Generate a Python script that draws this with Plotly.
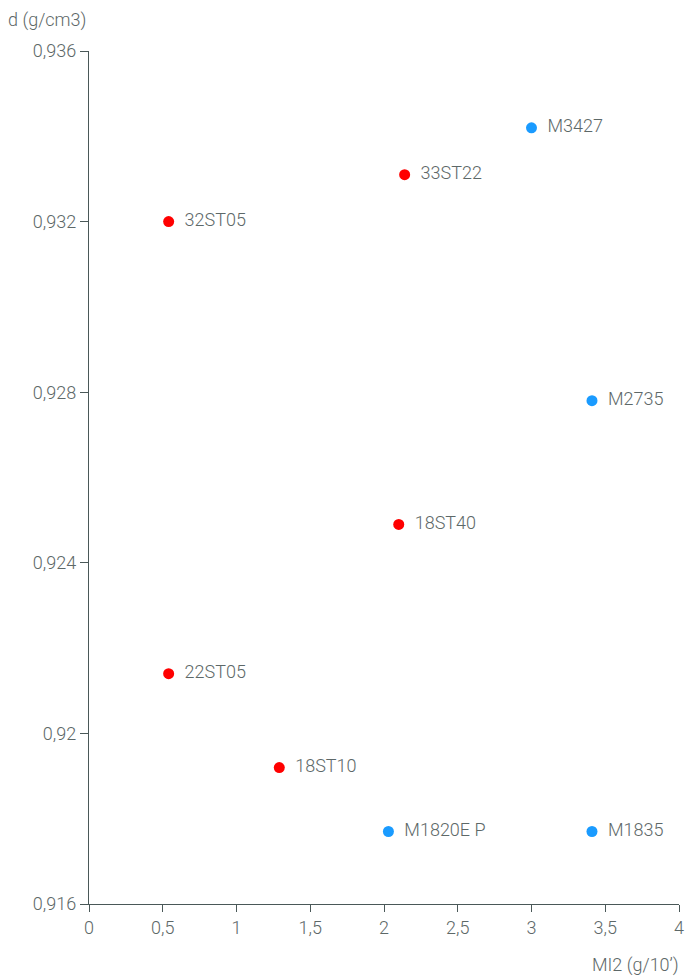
import plotly.graph_objects as go

red_names = ["33ST22", "32ST05", "18ST40", "22ST05", "18ST10"]
red_mi = [2.14, 0.54, 2.10, 0.54, 1.29]
red_d = [0.9331, 0.9320, 0.9249, 0.9214, 0.9192]

blue_names = ["M3427", "M2735", "M1820E P", "M1835"]
blue_mi = [3.00, 3.41, 2.03, 3.41]
blue_d = [0.9342, 0.9278, 0.9177, 0.9177]

x_ticks = [0, 0.5, 1, 1.5, 2, 2.5, 3, 3.5, 4]
y_ticks = [0.916, 0.92, 0.924, 0.928, 0.932, 0.936]

FONT = "Roboto"
TXT = "#5d6868"
AX = "#4a5858"
FS = 18

fig = go.Figure()
for names, xs, ys, col in [(red_names, red_mi, red_d, "#ff0000"),
                           (blue_names, blue_mi, blue_d, "#1a9bff")]:
    fig.add_trace(go.Scatter(
        x=xs, y=ys, mode="markers+text",
        text=[" \u2009" + n for n in names], textposition="middle right",
        marker=dict(color=col, size=11),
        textfont=dict(family=FONT, size=FS, color=TXT, weight=300),
        cliponaxis=False, showlegend=False, hoverinfo="skip"))

fig.update_layout(
    width=696, height=976,
    margin=dict(l=89, r=17, t=51, b=72),
    paper_bgcolor="white", plot_bgcolor="white",
    separators=",.",
    font=dict(family=FONT, size=FS, color=TXT, weight=300),
    xaxis=dict(range=[0, 4], tickvals=x_ticks, showgrid=False, zeroline=False,
               showline=True, linecolor=AX, linewidth=1.3,
               ticks="outside", ticklen=7, tickcolor=AX, tickwidth=1.3,
               tickfont=dict(family=FONT, size=FS, color=TXT, weight=300)),
    yaxis=dict(range=[0.916, 0.936], tickvals=y_ticks, showgrid=False, zeroline=False,
               showline=True, linecolor=AX, linewidth=1.3,
               ticks="outside", ticklen=8, tickcolor=AX, tickwidth=1.3,
               tickfont=dict(family=FONT, size=FS, color=TXT, weight=300)),
    annotations=[
        dict(text="d (g/cm3)", xref="paper", yref="paper", x=0, y=1,
             xshift=-83, yshift=18, xanchor="left", yanchor="bottom", showarrow=False,
             font=dict(family=FONT, size=FS, color=TXT, weight=300)),
        dict(text="MI2 (g/10’)", xref="paper", yref="paper", x=1, y=0,
             xshift=2, yshift=-48, xanchor="right", yanchor="top", showarrow=False,
             font=dict(family=FONT, size=FS, color=TXT, weight=300)),
    ],
)

fig.write_html("out.html", config={"displayModeBar": False},
               post_script="document.body.style.margin='0';")
